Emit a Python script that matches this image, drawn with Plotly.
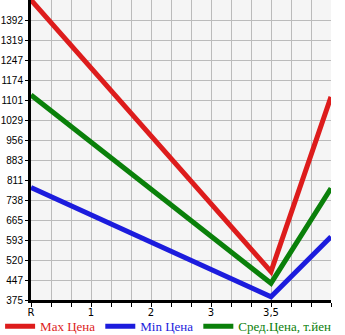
import plotly.graph_objects as go

categories = ["R", "1", "2", "3", "3,5", ""]
x_pos = [0, 1, 2, 3, 4, 5]
max_price = [1465, 1218, 971, 725, 478, 1113]
min_price = [784, 685, 586, 486, 387, 605]
avg_price = [1120, 949, 778, 607, 436, 781]
y_ticks = [375, 447, 520, 593, 665, 738, 811, 883, 956, 1029, 1101, 1174, 1247, 1319, 1392]
y_min, y_max = 375, 1465

series = [
    ("Max Цена", max_price, "#dd1c1c"),
    ("Min Цена", min_price, "#1c1cdd"),
    ("Сред.Цена, т.йен", avg_price, "#0a800a"),
]

fig = go.Figure()
for name, vals, col in series:
    fig.add_trace(go.Scatter(
        x=x_pos, y=vals, mode="lines", name=f"<span style='color:{col}'>{name}</span>",
        line=dict(color=col, width=5),
    ))

step = (y_max - y_min) / 15
tickvals_y = [y_min + step * i for i in range(len(y_ticks))]
minor_x = [i / 3 for i in range(16)]
ticktext_x = []
for v in minor_x:
    if abs(v - round(v)) < 1e-9:
        ticktext_x.append(categories[int(round(v))])
    else:
        ticktext_x.append("")

fig.update_layout(
    width=345, height=335,
    margin=dict(l=31, r=14, t=0, b=35, autoexpand=False),
    paper_bgcolor="white",
    plot_bgcolor="#f5f5f5",
    showlegend=True,
    legend=dict(
        orientation="h", x=-0.103, y=-0.088, xanchor="left", yanchor="middle",
        font=dict(family="Liberation Serif", size=13, color="black"),
        itemwidth=30, tracegroupgap=0,
        bgcolor="rgba(0,0,0,0)",
    ),
    xaxis=dict(
        range=[0, 5], tickmode="array", tickvals=minor_x, ticktext=ticktext_x,
        showgrid=True, gridcolor="#bbbbbb", gridwidth=1,
        showline=True, linecolor="black", linewidth=3,
        ticks="outside", ticklen=4, tickcolor="black", tickwidth=1,
        ticklabelstandoff=-3,
        tickfont=dict(family="DejaVu Sans", size=10, color="black"),
        zeroline=False,
    ),
    yaxis=dict(
        range=[y_min, y_max], tickmode="array", tickvals=tickvals_y,
        ticktext=[str(t) for t in y_ticks],
        showgrid=True, gridcolor="#bbbbbb", gridwidth=1,
        showline=True, linecolor="black", linewidth=3,
        ticks="outside", ticklen=3, tickcolor="black", tickwidth=1,
        tickfont=dict(family="Liberation Sans", size=10, color="black"),
        zeroline=False,
    ),
)

fig.write_html("out.html")
